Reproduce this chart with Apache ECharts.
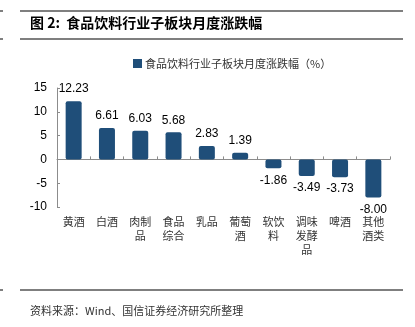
<!DOCTYPE html>
<html><head><meta charset="utf-8">
<script src="https://cdn.jsdelivr.net/npm/echarts@6/dist/echarts.min.js"></script>
<style>html,body{margin:0;padding:0;background:#fff}#c{width:415px;height:327px}</style>
</head><body><div id="c"></div>
<script>
var categories = ['黄酒','白酒','肉制\n品','食品\n综合','乳品','葡萄\n酒','软饮\n料','调味\n发酵\n品','啤酒','其他\n酒类'];
var values = [12.23, 6.61, 6.03, 5.68, 2.83, 1.39, -1.86, -3.49, -3.73, -8.00];
var seriesName = '食品饮料行业子板块月度涨跌幅（%）';
var titleText = '图 2:  食品饮料行业子板块月度涨跌幅';
var sourceText = '资料来源：Wind、国信证券经济研究所整理';
var yTicks = {min: -10, max: 15, interval: 5};

var cjk = '"Noto Sans CJK SC", sans-serif';
var lat = '"Liberation Sans", Arial, sans-serif';
var barColor = '#1f4e79';

var chart = echarts.init(document.getElementById('c'), null, {renderer: 'canvas'});
chart.setOption({
  animation: false,
  backgroundColor: '#fff',
  grid: {left: 57, right: 25, top: 88, bottom: 120},
  legend: {
    data: [seriesName], left: 128, top: 53, itemWidth: 9, itemHeight: 9, itemGap: 4,
    icon: 'rect',
    textStyle: {fontFamily: cjk, fontSize: 11, color: '#333', padding: [0,0,0,-2]}
  },
  xAxis: {
    type: 'category', data: categories,
    axisLine: {onZero: true, lineStyle: {color: '#8c8c8c', width: 1}},
    axisTick: {show: true, inside: true, length: 3, lineStyle: {color: '#8c8c8c'}},
    axisLabel: {interval: 0, margin: 8, fontFamily: cjk, fontSize: 11, lineHeight: 14, color: '#333'}
  },
  yAxis: {
    type: 'value', min: yTicks.min, max: yTicks.max, interval: yTicks.interval,
    splitLine: {show: false},
    axisLine: {show: true, lineStyle: {color: '#8c8c8c', width: 1}},
    axisTick: {show: true, inside: true, length: 3, lineStyle: {color: '#8c8c8c'}},
    axisLabel: {fontFamily: lat, fontSize: 12, color: '#000', margin: 10}
  },
  series: [{
    name: seriesName, type: 'bar', barWidth: 16,
    itemStyle: {color: barColor, borderRadius: 2},
    data: values.map(function(v){
      return {value: v, label: {position: v >= 0 ? 'top' : 'bottom'}};
    }),
    label: {
      show: true, distance: 6, fontFamily: lat, fontSize: 12, color: '#000',
      formatter: function(p){ return p.value.toFixed(2); }
    }
  }],
  graphic: [
    {type: 'line', shape: {x1: 20, y1: 11, x2: 403, y2: 11}, style: {stroke: '#555', lineWidth: 1.5}},
    {type: 'line', shape: {x1: 20, y1: 39, x2: 403, y2: 39}, style: {stroke: '#555', lineWidth: 1.5}},
    {type: 'line', shape: {x1: 20, y1: 290, x2: 403, y2: 290}, style: {stroke: '#555', lineWidth: 1.5}},
    {type: 'line', shape: {x1: 0, y1: 11, x2: 3, y2: 11}, style: {stroke: '#555', lineWidth: 1.5}},
    {type: 'line', shape: {x1: 0, y1: 39, x2: 3, y2: 39}, style: {stroke: '#555', lineWidth: 1.5}},
    {type: 'line', shape: {x1: 0, y1: 290, x2: 3, y2: 290}, style: {stroke: '#555', lineWidth: 1.5}},
    {type: 'text', left: 30, top: 16, style: {text: titleText, font: 'bold 14px ' + cjk, fill: '#000'}},
    {type: 'text', left: 30, top: 305, style: {text: sourceText, font: '11px ' + cjk, fill: '#333'}}
  ]
});
</script></body></html>
